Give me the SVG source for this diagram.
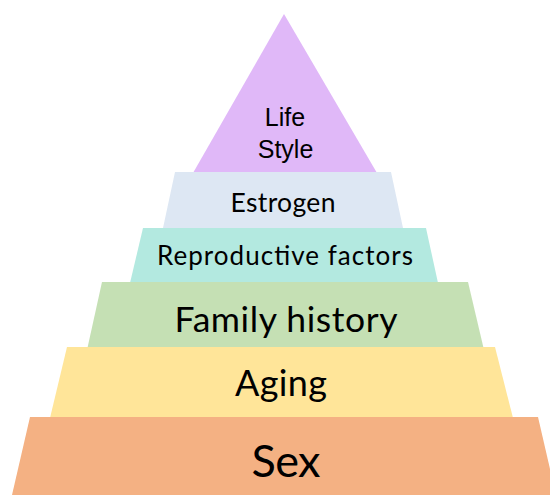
<svg xmlns="http://www.w3.org/2000/svg" width="550" height="495" viewBox="0 0 550 495">
<style>
.cal{font-family:Lato,"Liberation Sans",sans-serif;fill:#000;text-anchor:middle}
.ari{font-family:"Liberation Sans",Arial,sans-serif;fill:#000;text-anchor:middle;font-size:25px}
</style>
<rect width="550" height="495" fill="#fff"/>
<g id="life-style">
<polygon points="284,14 377,173 193,173" fill="#E0B8F8"/>
<text class="ari" x="285" y="126">Life</text>
<text class="ari" x="285.5" y="158">Style</text>
</g>
<g id="estrogen">
<polygon points="175,172 391,172 403,228 163,228" fill="#DDE7F3"/>
<text class="cal" x="283" y="212" font-size="26.5" textLength="105">Estrogen</text>
</g>
<g id="reproductive-factors">
<polygon points="143,228 426,228 438,283 130,283" fill="#B3E9E0"/>
<text class="cal" x="285" y="265" font-size="26" textLength="256">Reproductive factors</text>
</g>
<g id="family-history">
<polygon points="102,282 468,282 484,350 87,350" fill="#C5E0B4"/>
<text class="cal" x="286" y="331.5" font-size="35.5" textLength="223">Family history</text>
</g>
<g id="aging">
<polygon points="67,347 495,347 513,418 50,418" fill="#FFE599"/>
<text class="cal" x="281" y="395.5" font-size="36" textLength="92">Aging</text>
</g>
<g id="sex">
<polygon points="30,417 538,417 556,495 12,495" fill="#F4B183"/>
<text class="cal" x="286" y="477" font-size="45" textLength="69">Sex</text>
</g>
<g id="connectors"/>
</svg>
